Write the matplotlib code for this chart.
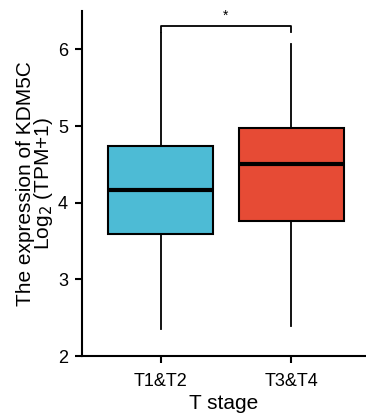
import matplotlib
matplotlib.use("Agg")
import matplotlib.pyplot as plt

plt.rcParams['font.family'] = ['Liberation Sans', 'DejaVu Sans']

# Box statistics
grupos = ['T1&T2', 'T3&T4']
colores = ['#4DBBD5', '#E64B35']
bigote_inf = [2.35, 2.39]
q1 = [3.59, 3.76]
mediana = [4.16, 4.51]
q3 = [4.74, 4.98]
bigote_sup = [6.21, 6.07]
signif = '*'

stats = []
for i, g in enumerate(grupos):
    stats.append(dict(label=g, whislo=bigote_inf[i], q1=q1[i], med=mediana[i],
                      q3=q3[i], whishi=bigote_sup[i], fliers=[]))

fig = plt.figure(figsize=(3.66, 4.15), dpi=100)
ax = fig.add_axes([0.224, 0.142, 0.776, 0.8315])

bp = ax.bxp(stats, positions=range(len(grupos)), widths=0.8, patch_artist=True,
            showcaps=False, showfliers=False,
            boxprops=dict(linewidth=1.5, edgecolor='black'),
            medianprops=dict(linewidth=3, color='black'),
            whiskerprops=dict(linewidth=1.3, color='black'))
for caja, c in zip(bp['boxes'], colores):
    caja.set_facecolor(c)

# significance bracket
y_br = 6.31
ax.plot([0, 0, 1, 1], [bigote_sup[0] + 0.01, y_br, y_br, 6.22], color='black', lw=1.3,
        clip_on=False)
ax.text(0.5, y_br + 0.04, signif, ha='center', va='bottom', fontsize=10)

ax.set_xlim(-0.6, 1.57)
ax.set_ylim(2, 6.5)
ax.set_yticks([2, 3, 4, 5, 6])
ax.spines['top'].set_visible(False)
ax.spines['right'].set_visible(False)
ax.spines['left'].set_linewidth(1.5)
ax.spines['bottom'].set_linewidth(1.5)
ax.tick_params(axis='y', length=5, width=1.5, labelsize=13, pad=5)
ax.tick_params(axis='x', length=5, width=1.5, labelsize=13, pad=7)
ax.set_xlabel('T stage', fontsize=15, labelpad=3)
ax.set_ylabel('The expression of KDM5C\nLog$_2$ (TPM+1)', fontsize=15,
              linespacing=0.85, labelpad=2)

plt.savefig('out.png', dpi=100)
